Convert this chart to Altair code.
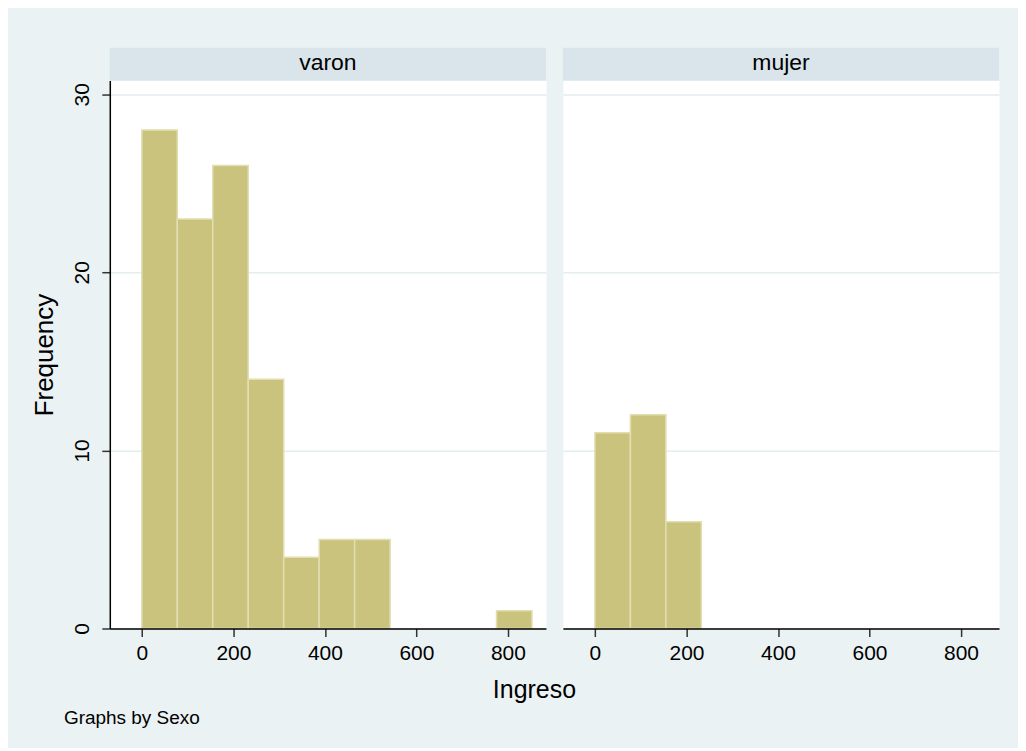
import altair as alt
import pandas as pd

# ---- data ----
panels = ["varon", "mujer"]
bin_start = [0, 77.5, 155, 232.5, 310, 387.5, 465, 542.5, 620, 697.5, 775]
bin_end = [77.5, 155, 232.5, 310, 387.5, 465, 542.5, 620, 697.5, 775, 852.5]
varon_counts = [28, 23, 26, 14, 4, 5, 5, 0, 0, 0, 1]
mujer_counts = [11, 12, 6, 0, 0, 0, 0, 0, 0, 0, 0]
y_ticks = [0, 10, 20, 30]
x_ticks = [0, 200, 400, 600, 800]

FONT = "Liberation Sans"
BG = "#EAF2F3"
HEAD = "#D9E5EA"
BAR = "#CAC37E"
BAR_LINE = "#E2DEB0"
GRID = "#E4EDEF"
W, H = 437, 549
HEAD_H = 33

xscale = alt.Scale(domain=[-70, 883], nice=False, zero=False)
yscale = alt.Scale(domain=[0, 30.77], nice=False, zero=False)


def panel(name, counts, first):
    df = pd.DataFrame({"start": bin_start, "end": bin_end, "count": counts})
    df = df[df["count"] > 0]

    if first:
        yaxis = alt.Axis(values=y_ticks, title="Frequency", labelAngle=270,
                         labelFontSize=21, labelPadding=9, tickSize=8,
                         tickColor="#333333", tickWidth=1.5,
                         domainColor="black", domainWidth=1.5,
                         titleFontSize=26, titleFontWeight="normal",
                         titlePadding=14, titleColor="black",
                         labelColor="black", grid=True, gridColor=GRID,
                         gridWidth=1.5)
        xaxis = alt.Axis(values=x_ticks, title="Ingreso", labelFontSize=21,
                         labelPadding=6, tickSize=8, tickColor="#333333",
                         tickWidth=1.5, domainColor="black", domainWidth=1.5,
                         labelColor="black", labelFlush=False,
                         titleFontSize=25, titleFontWeight="normal",
                         titleColor="black", titleX=425, titleY=69,
                         titleAlign="center", titleBaseline="alphabetic",
                         grid=False, zindex=1)
    else:
        yaxis = alt.Axis(values=y_ticks, title=None, labels=False, ticks=False,
                         domain=False, grid=True, gridColor=GRID, gridWidth=1.5)
        xaxis = alt.Axis(values=x_ticks, title=None, labelFontSize=21,
                         labelPadding=6, tickSize=8, tickColor="#333333",
                         tickWidth=1.5, domainColor="black", domainWidth=1.5,
                         labelColor="black", labelFlush=False, grid=False,
                         zindex=1)

    bars = alt.Chart(df).mark_rect(fill=BAR, stroke=BAR_LINE, strokeWidth=1.5).encode(
        x=alt.X("start:Q", scale=xscale, axis=xaxis),
        x2="end:Q",
        y=alt.Y("count:Q", scale=yscale, axis=yaxis),
        y2=alt.datum(0),
    )

    lab = alt.Data(values=[{"label": name}])
    strip = alt.Chart(lab).mark_rect(fill=HEAD).encode(
        x=alt.value(0), x2=alt.value(W), y=alt.value(-HEAD_H), y2=alt.value(0)
    )
    strip_text = alt.Chart(lab).mark_text(
        font=FONT, fontSize=23, color="black", baseline="middle", align="center"
    ).encode(x=alt.value(W / 2), y=alt.value(-HEAD_H / 2 - 1), text="label:N")

    layers = [strip, strip_text, bars]
    if first:
        note = alt.Chart(alt.Data(values=[{"t": "Graphs by Sexo"}])).mark_text(
            font=FONT, fontSize=19, color="black", align="left", baseline="alphabetic"
        ).encode(x=alt.value(-46), y=alt.value(645), text="t:N")
        layers.append(note)

    return alt.layer(*layers).properties(
        width=W, height=H,
        view=alt.ViewBackground(fill="white", stroke="transparent"),
    )


chart = alt.hconcat(
    panel(panels[0], varon_counts, True),
    panel(panels[1], mujer_counts, False),
    spacing=17,
    bounds="flush",
).properties(
    background=BG,
    padding={"left": 23, "top": 38, "right": 18, "bottom": 18},
).configure(font=FONT).configure_axis(labelFont=FONT, titleFont=FONT)

chart.save("out.html", embed_options={"renderer": "svg", "actions": False})
